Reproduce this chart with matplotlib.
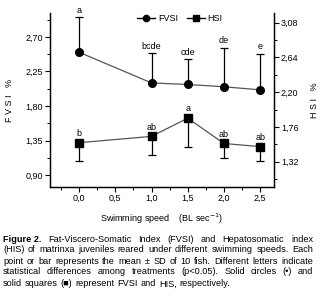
import matplotlib
matplotlib.use("Agg")
import matplotlib.pyplot as plt
from matplotlib.lines import Line2D
from matplotlib.ticker import MultipleLocator

plt.rcParams['font.family'] = ['Liberation Sans', 'DejaVu Sans']

# data
speed = [0.0, 1.0, 1.5, 2.0, 2.5]
fvsi = [2.50, 2.10, 2.08, 2.05, 2.01]
fvsi_sd = [0.46, 0.39, 0.33, 0.51, 0.47]
fvsi_letters = ['a', 'bcde', 'cde', 'de', 'e']
hsi = [1.56, 1.64, 1.87, 1.55, 1.51]
hsi_sd = [0.23, 0.23, 0.36, 0.18, 0.18]
hsi_letters = ['b', 'ab', 'a', 'ab', 'ab']

caption_lines = [
    "Fat-Viscero-Somatic Index (FVSI) and Hepatosomatic index",
    "(HIS) of matrinxa juveniles reared under different swimming speeds. Each",
    "point or bar represents the mean \u00b1 SD of 10 fish. Different letters indicate",
    "statistical differences among treatments (p<0.05). Solid circles (\u2022) and",
    "solid squares (\u25a0) represent FVSI and HIS, respectively.",
]

fig = plt.figure(figsize=(3.25, 3.04), dpi=100)
ax = fig.add_axes([0.154, 0.385, 0.689, 0.572])
ax2 = ax.twinx()

fs = 6.5
grey = '#555555'

# FVSI on the left axis, error bars only going up
ax.errorbar(speed, fvsi, yerr=[[0]*5, fvsi_sd], fmt='o-', color=grey, mfc='black',
            mec='black', ms=5.5, lw=0.9, ecolor='black', elinewidth=0.9, capsize=3,
            capthick=0.9, zorder=3)
for x, y, s, t in zip(speed, fvsi, fvsi_sd, fvsi_letters):
    ax.text(x, y + s + 0.03, t, ha='center', va='bottom', fontsize=fs)

# HSI on the right axis, error bars only going down
ax2.errorbar(speed, hsi, yerr=[hsi_sd, [0]*5], fmt='s-', color=grey, mfc='black',
             mec='black', ms=5.5, lw=0.9, ecolor='black', elinewidth=0.9, capsize=3,
             capthick=0.9, zorder=3)
for x, y, t in zip(speed, hsi, hsi_letters):
    ax2.text(x, y + 0.06, t, ha='center', va='bottom', fontsize=fs)

ax.set_xlim(-0.4, 2.69)
ax.set_ylim(0.745, 3.01)
ax2.set_ylim(1.0, 3.2)

ax.set_xticks(speed[:1] + [0.5] + speed[1:])
ax.xaxis.set_minor_locator(MultipleLocator(0.25))
ax.set_yticks([0.90, 1.35, 1.80, 2.25, 2.70])
ax.yaxis.set_minor_locator(MultipleLocator(0.225))
ax2.set_yticks([1.32, 1.76, 2.20, 2.64, 3.08])
ax2.yaxis.set_minor_locator(MultipleLocator(0.22))

def comma(v, pos=None):
    return f"{v:.2f}".replace('.', ',')

ax.set_xticklabels([f"{v:.1f}".replace('.', ',') for v in ax.get_xticks()])
ax.set_yticklabels([comma(v) for v in ax.get_yticks()])
ax2.set_yticklabels([comma(v) for v in ax2.get_yticks()])

for a in (ax, ax2):
    a.spines['top'].set_visible(False)
    for sp in a.spines.values():
        sp.set_linewidth(0.9)
    a.tick_params(which='major', length=3.5, width=0.8, labelsize=fs, pad=1.5,
                  colors='black')
    a.tick_params(which='minor', length=2, width=0.7)

ax.set_ylabel('F V S I   %', fontsize=fs, labelpad=8)
ax2.set_ylabel('H S I   %', fontsize=fs, rotation=90, labelpad=8)
ax.set_xlabel('Swimming speed    (BL sec$^{-1}$)', fontsize=fs, labelpad=6)

handles = [Line2D([], [], color='black', marker='o', ms=4.5, lw=1),
           Line2D([], [], color='black', marker='s', ms=5, lw=1)]
ax.legend(handles, ['FVSI', 'HSI'], loc='upper center', ncol=2, frameon=False,
          fontsize=fs, bbox_to_anchor=(0.58, 1.04), handlelength=2.0,
          columnspacing=1.0, handletextpad=0.3)

# caption, justified word by word
fig.canvas.draw()
renderer = fig.canvas.get_renderer()
x0, x1 = 3 / 325, 313 / 325
ys = [1 - 239 / 304, 1 - 250 / 304, 1 - 261 / 304, 1 - 272 / 304, 1 - 284 / 304]
for i, (line, y) in enumerate(zip(caption_lines, ys)):
    words = line.split(' ')
    if i == 0:
        words = ['Figure 2.'] + words
    arts = []
    for j, w in enumerate(words):
        bold = (i == 0 and j == 0)
        t = fig.text(0, y, w, fontsize=6.6, va='center', ha='left',
                     fontweight='bold' if bold else 'normal')
        arts.append(t)
    widths = [a.get_window_extent(renderer).width / fig.bbox.width for a in arts]
    last = i == len(caption_lines) - 1
    gap = 0.009 if last else (x1 - x0 - sum(widths)) / (len(arts) - 1)
    pos = x0
    for a, w in zip(arts, widths):
        a.set_x(pos)
        pos += w + gap

fig.savefig('out.png', dpi=100)
